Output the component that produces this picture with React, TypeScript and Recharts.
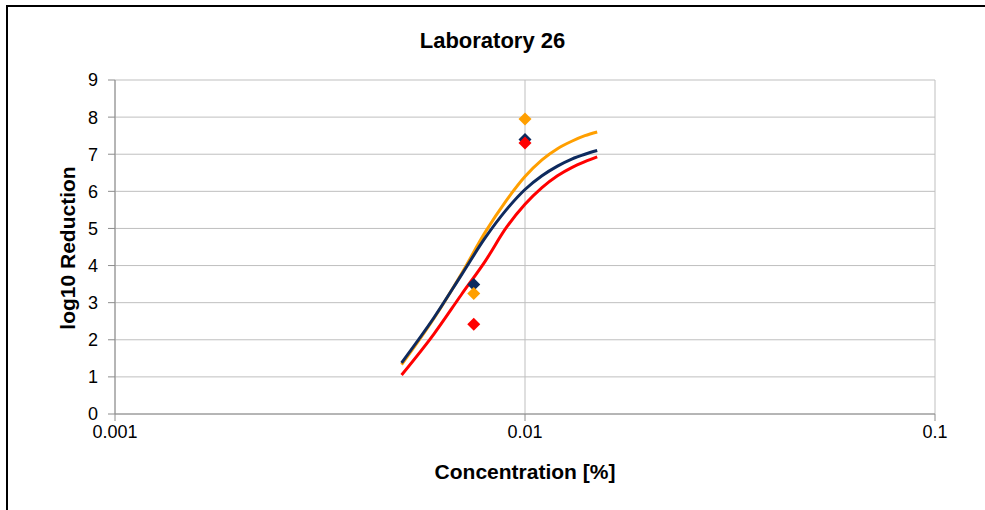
import React from 'react';
import { ComposedChart, Line, Scatter, XAxis, YAxis, CartesianGrid } from 'recharts';

const curveX = [0.005, 0.006, 0.007, 0.008, 0.009, 0.01, 0.011, 0.012, 0.013, 0.014, 0.015];
const orangeFit = [1.33, 2.58, 3.78, 4.9, 5.75, 6.4, 6.85, 7.15, 7.35, 7.5, 7.6];
const navyFit = [1.38, 2.6, 3.75, 4.75, 5.5, 6.05, 6.42, 6.68, 6.87, 7.0, 7.1];
const redFit = [1.05, 2.16, 3.22, 4.12, 5.02, 5.65, 6.1, 6.42, 6.64, 6.8, 6.93];

const pointX = [0.0075, 0.01];
const orangePts = [3.25, 7.95];
const navyPts = [3.49, 7.4];
const redPts = [2.42, 7.3];

const xTicks = [0.001, 0.01, 0.1];
const yTicks = [0, 1, 2, 3, 4, 5, 6, 7, 8, 9];

const ORANGE = '#FF9F00';
const NAVY = '#0E2A5E';
const RED = '#FF0000';

const toRows = (xs: number[], ys: number[]) => xs.map((x, i) => ({ x, y: ys[i] }));

const diamond = (color: string) => (props: any) => {
  const { cx, cy } = props;
  const r = 6.5;
  return <path d={`M${cx},${cy - r}L${cx + r},${cy}L${cx},${cy + r}L${cx - r},${cy}Z`} fill={color} />;
};

const FONT = '"Liberation Sans", Arial, sans-serif';

export default function App() {
  return (
    <div style={{ position: 'absolute', left: 0, top: 0, width: 985, height: 510, background: '#fff', overflow: 'hidden' }}>
      <div style={{ position: 'absolute', left: 6, top: 5, width: 1000, height: 600, border: '2px solid #000', boxSizing: 'border-box' }} />
      <div style={{ position: 'absolute', left: 0, top: 0 }}>
        <ComposedChart width={985} height={510} margin={{ top: 80, right: 50, bottom: 66, left: 75 }}>
          <CartesianGrid stroke="#BFBFBF" strokeWidth={1} />
          <XAxis
            type="number"
            dataKey="x"
            scale="log"
            domain={[0.001, 0.1]}
            ticks={xTicks}
            allowDataOverflow
            tickFormatter={(v: number) => String(v)}
            stroke="#8C8C8C"
            tickSize={7}
            tick={{ fill: '#000', fontSize: 18, fontFamily: FONT }}
            tickMargin={4}
            height={30}
          />
          <YAxis
            type="number"
            dataKey="y"
            domain={[0, 9]}
            ticks={yTicks}
            allowDataOverflow
            stroke="#8C8C8C"
            tickSize={7}
            tick={{ fill: '#000', fontSize: 18, fontFamily: FONT }}
            tickMargin={10}
            width={40}
          />
          <Line data={toRows(curveX, orangeFit)} dataKey="y" type="monotone" stroke={ORANGE} strokeWidth={3} dot={false} isAnimationActive={false} />
          <Line data={toRows(curveX, redFit)} dataKey="y" type="monotone" stroke={RED} strokeWidth={3} dot={false} isAnimationActive={false} />
          <Line data={toRows(curveX, navyFit)} dataKey="y" type="monotone" stroke={NAVY} strokeWidth={3} dot={false} isAnimationActive={false} />
          <Scatter data={toRows(pointX, navyPts)} dataKey="y" shape={diamond(NAVY)} isAnimationActive={false} />
          <Scatter data={toRows(pointX, orangePts)} dataKey="y" shape={diamond(ORANGE)} isAnimationActive={false} />
          <Scatter data={toRows(pointX, redPts)} dataKey="y" shape={diamond(RED)} isAnimationActive={false} />
        </ComposedChart>
      </div>
      <div style={{ position: 'absolute', left: 0, width: 985, top: 27, textAlign: 'center', fontFamily: FONT, fontWeight: 'bold', fontSize: 22, lineHeight: '28px' }}>Laboratory 26</div>
      <div style={{ position: 'absolute', left: 115, width: 820, top: 459, textAlign: 'center', fontFamily: FONT, fontWeight: 'bold', fontSize: 21, lineHeight: '26px' }}>Concentration [%]</div>
      <div style={{ position: 'absolute', left: 68, top: 248, width: 0, height: 0 }}>
        <div style={{ position: 'absolute', left: -120, top: -13, width: 240, height: 26, lineHeight: '26px', textAlign: 'center', transform: 'rotate(-90deg)', fontFamily: FONT, fontWeight: 'bold', fontSize: 21, whiteSpace: 'nowrap' }}>log10 Reduction</div>
      </div>
    </div>
  );
}
